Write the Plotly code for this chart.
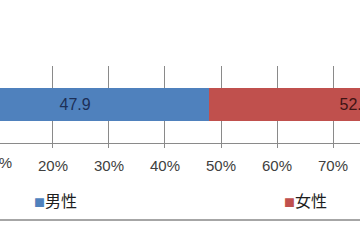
import plotly.graph_objects as go

# ---- data ----
categories = ["全体"]
series_names = ["男性", "女性"]
male_values = [47.9]
female_values = [52.1]
tick_values = [0, 10, 20, 30, 40, 50, 60, 70, 80, 90, 100]
tick_labels = [f"{v}%" for v in tick_values]

# ---- style ----
BLUE = "#4F81BD"
RED = "#C0504D"
GRID = "#8a8a8a"
W, H = 360, 240
X_RANGE = [10.54, 74.82]
LATIN = "Liberation Sans, Arial, sans-serif"
CJK = "Noto Sans CJK JP, sans-serif"

fig = go.Figure()
fig.add_trace(go.Bar(
    y=categories, x=male_values, orientation="h", name=series_names[0],
    marker=dict(color=BLUE, line=dict(width=0)), width=0.42,
    texttemplate="%{x:.1f}", textposition="inside", insidetextanchor="middle",
    insidetextfont=dict(family=LATIN, size=16, color="#1c2f57"),
    showlegend=False, hoverinfo="skip"))
fig.add_trace(go.Bar(
    y=categories, x=female_values, orientation="h", name=series_names[1],
    marker=dict(color=RED, line=dict(width=0)), width=0.42,
    texttemplate="%{x:.1f}", textposition="inside", insidetextanchor="middle",
    insidetextfont=dict(family=LATIN, size=16, color="#3f1414"),
    showlegend=False, hoverinfo="skip"))

# legend-only entries (square drawn as a glyph so it sits close to the text)
for nm, col, lg in [(series_names[0], BLUE, "legend"), (series_names[1], RED, "legend2")]:
    fig.add_trace(go.Scatter(
        x=[None], y=[None], mode="markers",
        marker=dict(color="rgba(0,0,0,0)", size=1, line=dict(width=0)),
        name=f'<span style="color:{col};font-size:11px">■</span>{nm}',
        legend=lg, showlegend=True))

# partial tick label at the left edge (tick outside the visible range)
span = X_RANGE[1] - X_RANGE[0]
for v, t in zip(tick_values, tick_labels):
    if v < X_RANGE[0] and (X_RANGE[0] - v) / span * W < 30:
        fig.add_annotation(x=(v - X_RANGE[0]) / span, xref="paper", y=0, yref="paper",
                           yanchor="top", xanchor="center", yshift=-9, text=t,
                           showarrow=False, font=dict(family=LATIN, size=15, color="#404040"))

fig.add_shape(type="line", xref="paper", yref="paper", x0=-0.1, x1=1.1, y0=-1.0, y1=-1.0,
              layer="above", line=dict(color="#a6a6a6", width=2))

legend_common = dict(orientation="h", yanchor="middle", y=-0.753, xanchor="left",
                     bgcolor="rgba(0,0,0,0)", borderwidth=0,
                     font=dict(family=CJK, size=16, color="#1e1e1e"), itemwidth=30)
fig.update_layout(
    width=W, height=H, barmode="stack",
    margin=dict(l=0, r=0, t=66, b=97, pad=0, autoexpand=False),
    plot_bgcolor="white", paper_bgcolor="white",
    legend=dict(x=-6 / W, **legend_common),
    legend2=dict(x=244 / W, **legend_common),
    xaxis=dict(range=X_RANGE, tickvals=tick_values, ticktext=tick_labels,
               showgrid=True, gridcolor=GRID, gridwidth=1,
               showline=True, linecolor=GRID, linewidth=1,
               ticks="outside", ticklen=4, tickcolor=GRID, tickwidth=1,
               ticklabelstandoff=5,
               tickfont=dict(family=LATIN, size=15, color="#404040"),
               zeroline=False, fixedrange=True),
    yaxis=dict(visible=False, range=[-0.5, 0.5], fixedrange=True),
)

fig.write_html("out.html")
